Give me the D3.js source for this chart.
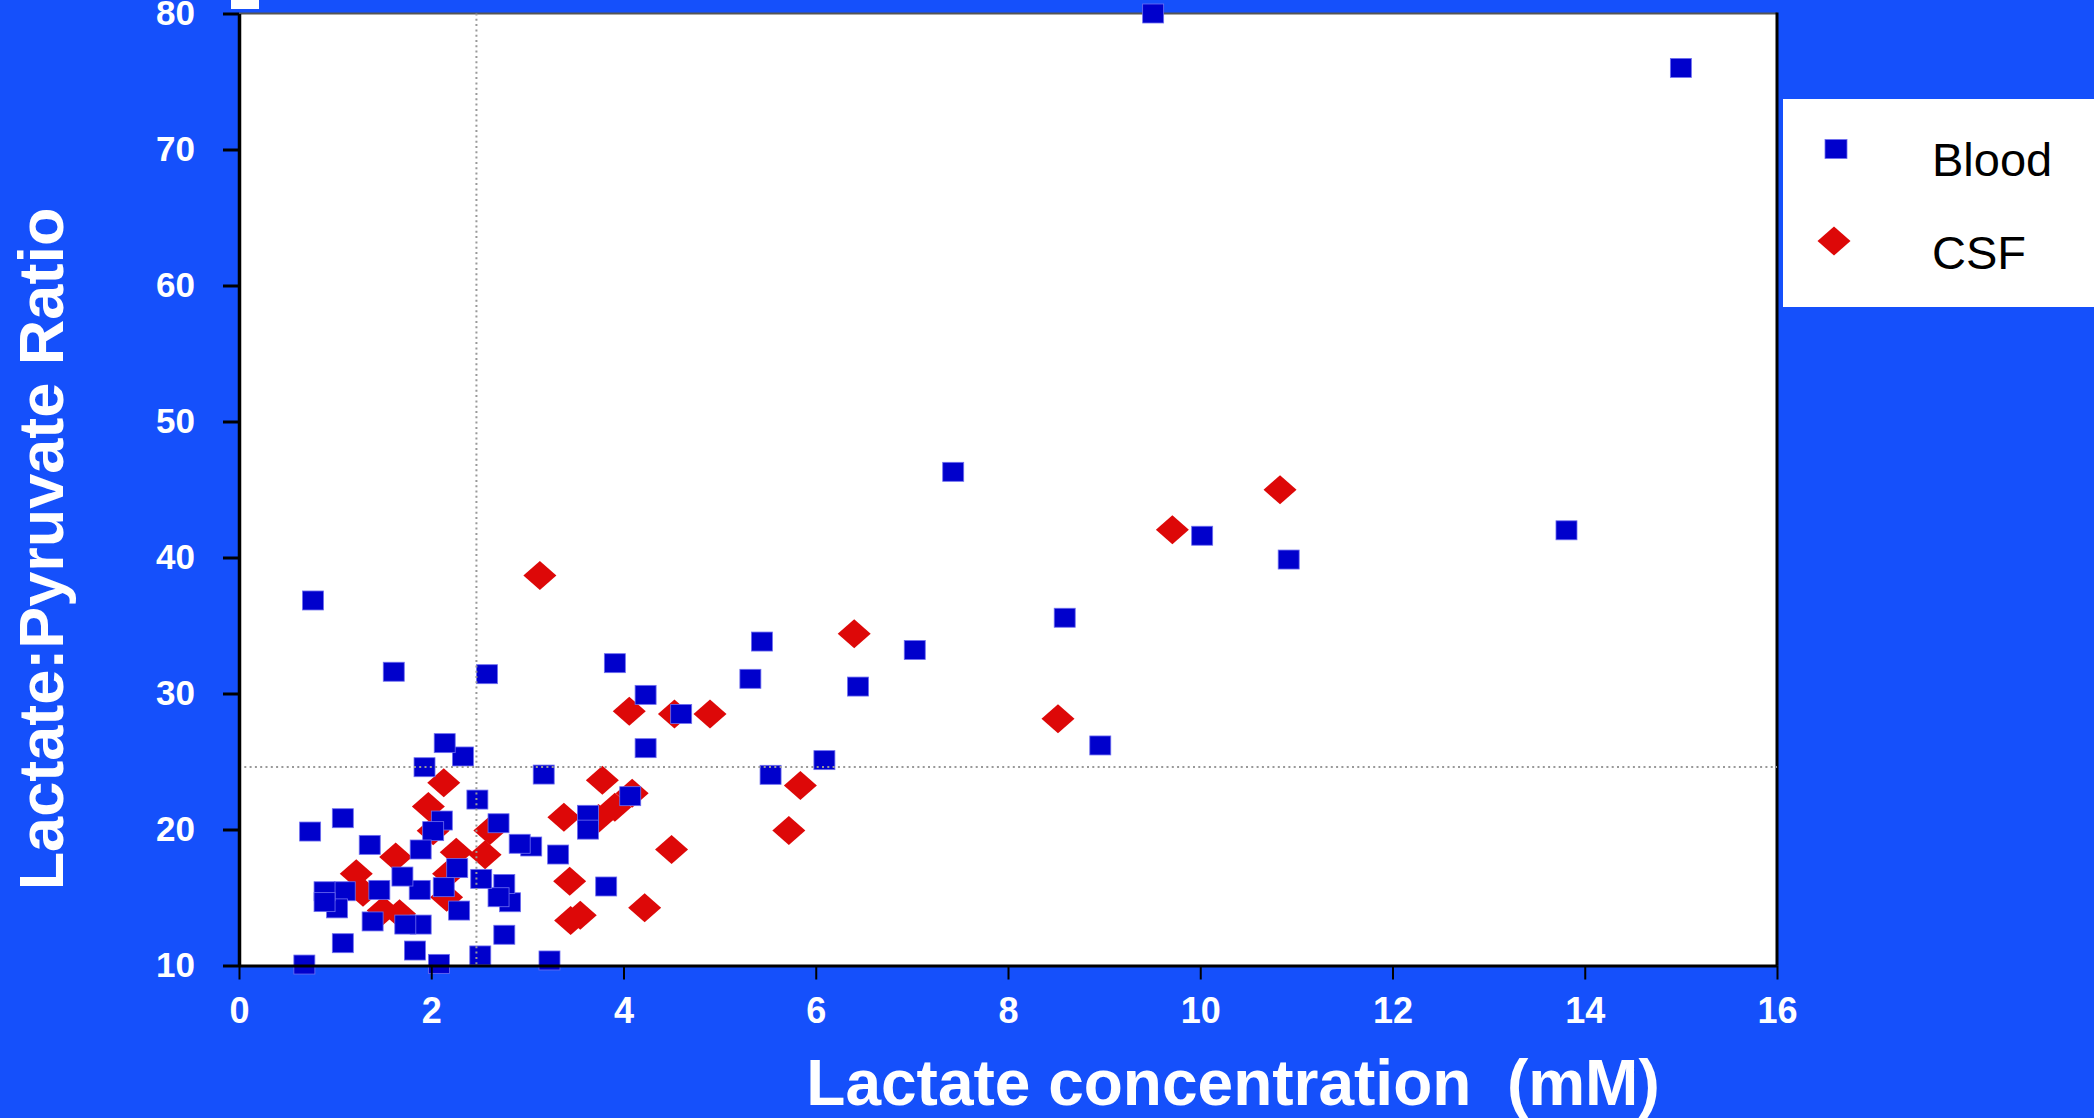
<!DOCTYPE html>
<html>
<head>
<meta charset="utf-8">
<script src="https://d3js.org/d3.v7.min.js"></script>
<style>
  body { margin: 0; background: #1550fb; }
  svg { display: block; }
</style>
</head>
<body>
<div id="chart"></div>
<script>
const width = 2094
const height = 1118

// Blood (mM lactate, L:P ratio)
const bloodX = [9.51, 15.0, 7.43, 13.81, 10.02, 10.92, 8.59, 8.96, 7.03, 6.44, 6.09, 5.44, 5.32, 5.53,
    4.6, 4.23, 4.23, 3.91, 4.07, 3.63, 3.63, 3.82, 3.17, 3.32, 3.23, 3.04, 2.92, 2.7, 2.82, 2.76,
    2.76, 2.7, 2.58, 2.48, 2.51, 2.52, 2.33, 2.14, 2.27, 2.29, 2.11, 2.13, 2.08, 1.93, 2.02, 1.89,
    1.88, 1.89, 1.83, 1.73, 1.7, 1.61, 1.46, 1.39, 1.36, 1.08, 1.08, 1.1, 1.02, 0.89, 0.89, 0.77,
    0.74, 0.68]
const bloodY = [80, 76.0, 46.3, 42.0, 41.6, 39.85, 35.57, 26.18, 33.2, 30.51, 25.1, 33.82, 31.08, 24.02,
    28.5, 29.9, 25.98, 32.23, 22.45, 21.08, 19.99, 15.81, 24.04, 18.16, 10.37, 18.75, 18.95, 20.46, 14.65, 16.0,
    12.26, 15.02, 31.42, 22.2, 10.74, 16.37, 25.37, 26.35, 17.16, 14.04, 20.66, 15.76, 10.12, 24.58, 19.88, 18.53,
    15.56, 13.01, 11.1, 13.01, 16.54, 31.6, 15.56, 13.24, 18.87, 20.83, 11.64, 15.46, 14.2, 15.46, 14.66, 36.84,
    19.85, 10.07]

// CSF
const csfX = [3.13, 4.06, 4.53, 4.9, 6.4, 3.78, 4.09, 5.84, 5.72, 3.91, 3.38, 3.74, 2.13, 1.97, 2.02,
    2.61, 2.26, 2.56, 1.63, 1.22, 1.29, 3.44, 4.5, 2.18, 2.16, 1.5, 1.67, 3.45, 3.55, 4.22, 8.52,
    9.71, 10.83]
const csfY = [38.68, 28.7, 28.5, 28.5, 34.39, 23.62, 22.67, 23.24, 19.93, 21.64, 20.9, 20.8, 23.43, 21.69, 19.9,
    19.93, 18.33, 18.14, 17.97, 16.74, 15.39, 16.2, 18.53, 16.74, 15.02, 14.04, 13.8, 13.3, 13.7, 14.24, 28.14,
    42.04, 44.98]

const xTicks = [0, 2, 4, 6, 8, 10, 12, 14, 16]
const yTicks = [10, 20, 30, 40, 50, 60, 70, 80]
const refLactate = 2.47
const refRatio = 24.6
const seriesNames = ["Blood", "CSF"]

const blood = bloodX.map((d, i) => ({x: d, y: bloodY[i]}))
const csf = csfX.map((d, i) => ({x: d, y: csfY[i]}))

const font = "'Liberation Sans', Arial, sans-serif"
const bg = "#1550fb"
const blue = "#0000cc"
const red = "#dd0808"

const x = d3.scaleLinear().domain([0, 16]).range([239, 1777])
const y = d3.scaleLinear().domain([10, 80]).range([965.5, 13.5])

const svg = d3.select("#chart").append("svg")
    .attr("width", width)
    .attr("height", height)
    .style("background-color", bg)

svg.append("rect")
    .attr("x", 231).attr("y", 0)
    .attr("width", 28).attr("height", 9)
    .attr("fill", "white")

// plot area
svg.append("rect")
    .attr("x", x(0)).attr("y", y(80))
    .attr("width", x(16) - x(0)).attr("height", y(10) - y(80))
    .attr("fill", "white")

svg.append("line")
    .attr("x1", x(0)).attr("x2", x(16))
    .attr("y1", y(80)).attr("y2", y(80))
    .attr("stroke", "#555").attr("stroke-width", 2)
svg.append("line")
    .attr("x1", x(16)).attr("x2", x(16))
    .attr("y1", y(80) - 1).attr("y2", y(10))
    .attr("stroke", "black").attr("stroke-width", 3)

const squareW = 21, squareH = 19
const diamondW = 33, diamondH = 29
const diamondPath = `M0,${-diamondH / 2}L${diamondW / 2},0L0,${diamondH / 2}L${-diamondW / 2},0Z`

const puntos = svg.append("g").attr("id", "puntos")

puntos.selectAll(".csf")
    .data(csf)
    .join("path")
    .attr("class", "csf")
    .attr("d", diamondPath)
    .attr("transform", d => `translate(${x(d.x)},${y(d.y)})`)
    .attr("fill", red)

puntos.selectAll(".blood")
    .data(blood)
    .join("rect")
    .attr("class", "blood")
    .attr("x", d => x(d.x) - squareW / 2)
    .attr("y", d => y(d.y) - squareH / 2)
    .attr("width", squareW)
    .attr("height", squareH)
    .attr("fill", blue)
    .attr("stroke", "#6f6ff0")
    .attr("stroke-width", 0.8)

// reference lines
svg.append("line")
    .attr("x1", x(refLactate)).attr("x2", x(refLactate))
    .attr("y1", y(80)).attr("y2", y(10))
    .attr("stroke", "#999").attr("stroke-width", 2)
    .attr("stroke-dasharray", "2,3.3")
svg.append("line")
    .attr("x1", x(0)).attr("x2", x(16))
    .attr("y1", y(refRatio)).attr("y2", y(refRatio))
    .attr("stroke", "#999").attr("stroke-width", 2)
    .attr("stroke-dasharray", "2,3.3")

// axes
const xAxis = svg.append("g")
    .attr("transform", `translate(0,${y(10)})`)
    .call(d3.axisBottom(x).tickValues(xTicks).tickSize(14).tickSizeOuter(0).tickPadding(18))
xAxis.select(".domain").attr("stroke", "black").attr("stroke-width", 3)
xAxis.selectAll(".tick line").attr("stroke", "black").attr("stroke-width", 2)
xAxis.selectAll(".tick text")
    .attr("fill", "white")
    .style("font", `bold 36px ${font}`)

const yAxis = svg.append("g")
    .attr("transform", `translate(${x(0)},0)`)
    .call(d3.axisLeft(y).tickValues(yTicks).tickSize(16).tickSizeOuter(0).tickPadding(28))
yAxis.select(".domain").attr("stroke", "black").attr("stroke-width", 3.5)
yAxis.selectAll(".tick line").attr("stroke", "black").attr("stroke-width", 3)
yAxis.selectAll(".tick text")
    .attr("fill", "white")
    .style("font", `bold 35px ${font}`)

svg.append("text")
    .attr("x", 1233).attr("y", 1105)
    .attr("text-anchor", "middle")
    .attr("fill", "white")
    .style("font", `bold 64px ${font}`)
    .style("white-space", "pre")
    .text("Lactate concentration  (mM)")

svg.append("text")
    .attr("transform", "translate(63,549) rotate(-90)")
    .attr("text-anchor", "middle")
    .attr("fill", "white")
    .style("font", `bold 63px ${font}`)
    .text("Lactate:Pyruvate Ratio")

// legend
const legend = svg.append("g").attr("id", "legend")
legend.append("rect")
    .attr("x", 1783).attr("y", 99)
    .attr("width", width - 1783).attr("height", 208)
    .attr("fill", "white")

legend.append("rect")
    .attr("x", 1836 - 11).attr("y", 149 - 9.5)
    .attr("width", 22).attr("height", 19)
    .attr("fill", blue)
    .attr("stroke", "#6f6ff0").attr("stroke-width", 0.8)
legend.append("path")
    .attr("d", diamondPath)
    .attr("transform", "translate(1834,241)")
    .attr("fill", red)

legend.selectAll(".leg-text")
    .data(seriesNames)
    .join("text")
    .attr("class", "leg-text")
    .attr("x", 1932)
    .attr("y", (d, i) => 176 + i * 93)
    .attr("fill", "black")
    .style("font", `47px ${font}`)
    .text(d => d)
</script>
</body>
</html>
